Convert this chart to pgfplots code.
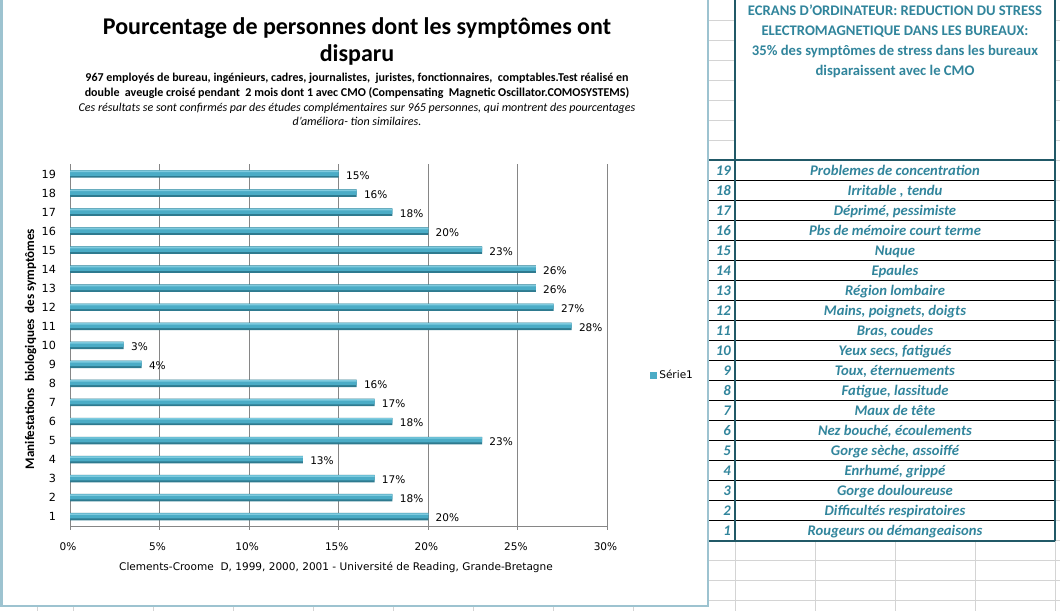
\documentclass[border=0pt]{standalone}
\usepackage{pgfplots}
\pgfplotsset{compat=1.18}
\usepackage{pgfplotstable}
\usepackage{fontspec}
\setmainfont{Carlito}
\newfontfamily\dv{DejaVu Sans}
\definecolor{barc}{HTML}{4BACC6}
\definecolor{bardark}{HTML}{2E7A8F}
\definecolor{barlight}{HTML}{7FCBDF}
\definecolor{gridc}{HTML}{868686}
\definecolor{tealtxt}{HTML}{31859C}
\definecolor{tblborder}{HTML}{215967}
\definecolor{chartborder}{HTML}{9DC3D0}
\definecolor{sheetgrid}{HTML}{D4D4D4}

\pgfplotstableread{
n v
1 20
2 18
3 17
4 13
5 23
6 18
7 17
8 16
9 4
10 3
11 28
12 27
13 26
14 26
15 23
16 20
17 18
18 16
19 15
}\data

\begin{document}
\begin{tikzpicture}[x=0.75pt,y=-0.75pt]
\useasboundingbox (0,0) rectangle (1060,611);
% spreadsheet background
\fill[white] (0,0) rectangle (1060,611);
\foreach \yy in {20,40,...,600} { \draw[sheetgrid,line width=0.75pt] (708,\yy) -- (1060,\yy); }
\foreach \xx in {735,815,895,975,1055} { \draw[sheetgrid,line width=0.75pt] (\xx,0) -- (\xx,611); }
\foreach \xx in {37,73,153,233,313,393,473,553,633} { \draw[sheetgrid,line width=0.75pt] (\xx,606) -- (\xx,611); }
% table
\fill[white] (735,0) rectangle (1055,541);
\foreach \k in {1,...,18} { \draw[black,line width=0.75pt] (708,160+20*\k) -- (1055,160+20*\k); }
\draw[tblborder,line width=1.6pt] (735,-2) -- (735,541);
\draw[tblborder,line width=1.6pt] (1055,-2) -- (1055,541);
\draw[tblborder,line width=1.6pt] (708,160) -- (1055,160);
\draw[tblborder,line width=1.6pt] (708,541) -- (1055,541);
% header text
\begin{scope}[every node/.style={anchor=base, font=\fontsize{11}{13}\selectfont\bfseries, text=tealtxt, inner sep=0pt}]
\node at (895,15) {ECRANS D'ORDINATEUR: REDUCTION DU STRESS};
\node at (895,35) {ELECTROMAGNETIQUE DANS LES BUREAUX:};
\node at (895,55) {35\% des symptômes de stress dans les bureaux};
\node at (895,75) {disparaissent avec le CMO};
\end{scope}
% rows
\begin{scope}[every node/.style={font=\fontsize{11}{13}\selectfont\bfseries\itshape, text=tealtxt, inner sep=0pt}]
\foreach \num/\lab [count=\i from 0] in {19/Problemes de concentration, 18/{Irritable , tendu}, 17/{Déprimé, pessimiste}, 16/Pbs de mémoire court terme, 15/Nuque, 14/Epaules, 13/Région lombaire, 12/{Mains, poignets, doigts}, 11/{Bras, coudes}, 10/{Yeux secs, fatigués}, 9/{Toux, éternuements}, 8/{Fatigue, lassitude}, 7/Maux de tête, 6/{Nez bouché, écoulements}, 5/{Gorge sèche, assoiffé}, 4/{Enrhumé, grippé}, 3/Gorge douloureuse, 2/Difficultés respiratoires, 1/Rougeurs ou démangeaisons} {
  \node[anchor=base east] at (731,175.5+20*\i) {\num};
  \node[anchor=base] at (895,175.5+20*\i) {\lab};
}
\end{scope}
% chart area
\fill[white] (0,-2) rectangle (708,606);
\draw[chartborder,line width=1.5pt] (1.5,-5) -- (1.5,606) -- (708,606) -- (708,-5);
% titles
\node[anchor=base, font=\fontsize{18}{21}\selectfont\bfseries, inner sep=0pt] at (357,34) {Pourcentage de personnes dont les symptômes ont};
\node[anchor=base, font=\fontsize{18}{21}\selectfont\bfseries, inner sep=0pt] at (357,61) {disparu};
\node[anchor=base, font=\fontsize{9}{10}\selectfont\bfseries, inner sep=0pt] at (357,81) {967 employés de bureau, ingénieurs, cadres, journalistes,\ \ juristes, fonctionnaires,\ \ comptables.Test réalisé en};
\node[anchor=base, font=\fontsize{9}{10}\selectfont\bfseries, inner sep=0pt] at (357,96) {double\ \ aveugle croisé pendant\ \ 2 mois dont\ 1 avec CMO (Compensating\ \ Magnetic\ Oscillator.COMOSYSTEMS)};
\node[anchor=base, font=\fontsize{9}{10}\selectfont\itshape, inner sep=0pt] at (357,111) {Ces résultats se sont confirmés par des études complémentaires sur 965 personnes, qui montrent des pourcentages};
\node[anchor=base, font=\fontsize{9}{10}\selectfont\itshape, inner sep=0pt] at (357,125) {d'améliora- tion similaires.};
\node[anchor=base, rotate=90, font=\fontsize{9.8}{11}\selectfont\bfseries, inner sep=0pt] at (34,349) {Manifestations\ \ biologiques\ \ des symptômes};
\node[anchor=base, font=\dv\fontsize{7.9}{9}\selectfont, inner sep=0pt] at (336,570) {Clements-Croome\ \ D, 1999, 2000, 2001 - Université de Reading, Grande-Bretagne};

\begin{axis}[
  at={(52.5pt,-394.65pt)}, anchor=south west, scale only axis,
  width=403.1pt, height=271.3pt,
  xmin=0, xmax=30, ymin=0.5, ymax=19.5,
  axis x line*=bottom, axis y line*=left,
  axis line style={gridc, line width=0.75pt, -},
  xmajorgrids, grid style={gridc, line width=0.75pt},
  xtick={0,5,...,30}, ytick={1,...,19},
  /pgf/number format/assume math mode=true,
  xticklabel={\pgfmathprintnumber{\tick}\%},
  tick label style={font=\dv\fontsize{7.9}{9}\selectfont, text=black},
  x tick label style={yshift=-6pt, xshift=-1.5pt},
  y tick label style={xshift=-4.5pt, font=\dv\fontsize{8.4}{9}\selectfont},
  tick align=outside, major tick length=2.5pt,
  xtick style={gridc, line width=0.75pt},
  ytick style={draw=none},
  legend style={at={(1.078,0.4166)}, anchor=west, draw=none, fill=none,
    font=\dv\fontsize{7.9}{9}\selectfont, inner sep=0pt},
  legend image code/.code={\fill[barc] (0pt,-2.6pt) rectangle (5.25pt,2.6pt);},
  clip=false,
]
\addplot[xbar, bar width=5.6pt, bar shift=0pt, draw=none, fill=bardark] table[x=v,y=n]{\data};
\addlegendentry{Série1}
\addplot[xbar, bar width=3.9pt, bar shift=0.6pt, draw=none, fill=barc, forget plot] table[x=v,y=n]{\data};
\addplot[xbar, bar width=1.1pt, bar shift=1.9pt, draw=none, fill=barlight, forget plot] table[x=v,y=n]{\data};
\addplot[draw=none, forget plot, point meta=x,
  nodes near coords={\pgfmathprintnumber{\pgfplotspointmeta}\%},
  nodes near coords style={anchor=west, font=\dv\fontsize{7.9}{9}\selectfont, text=black, xshift=2pt, yshift=-1pt}]
  table[x=v,y=n]{\data};
\end{axis}
\end{tikzpicture}
\end{document}
